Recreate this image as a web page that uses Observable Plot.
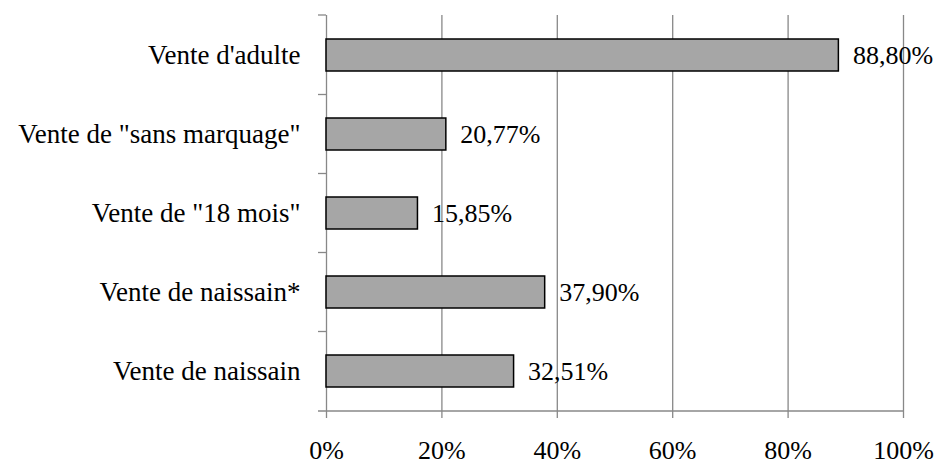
<!DOCTYPE html>
<html>
<head>
<meta charset="utf-8">
<script src="https://cdn.jsdelivr.net/npm/d3@7"></script>
<script src="https://cdn.jsdelivr.net/npm/@observablehq/plot@0.6"></script>
</head>
<body style="margin:0;padding:0;background:#fff">
<div id="chart"></div>
<script>
const categories = [
  "Vente d'adulte",
  "Vente de \"sans marquage\"",
  "Vente de \"18 mois\"",
  "Vente de naissain*",
  "Vente de naissain"
];
const values = [88.80, 20.77, 15.85, 37.90, 32.51];
const xTicks = [0, 20, 40, 60, 80, 100];

const data = categories.map((c, i) => ({cat: c, value: values[i]}));
const fmt = v => v.toFixed(2).replace(".", ",") + "%";

const FONT = "Times New Roman";
const gray = "#888888";
const tickLen = 8;

// category boundary ticks + x axis line (Excel-like)
function categoryTicks(index, scales, values_, dims) {
  const y = scales.y;
  const bw = y.bandwidth ? y.bandwidth() : 0;
  const top = dims.marginTop;
  const bottom = dims.height - dims.marginBottom;
  const left = dims.marginLeft;
  const right = dims.width - dims.marginRight;
  const centers = categories.map(c => y(c) + bw / 2);
  const bounds = [top];
  for (let i = 0; i < centers.length - 1; i++) bounds.push((centers[i] + centers[i + 1]) / 2);
  bounds.push(bottom);
  const g = d3.create("svg:g").attr("stroke", gray).attr("stroke-width", 1.3);
  bounds.forEach((b, i) => {
    g.append("line")
      .attr("x1", left - tickLen).attr("x2", i === bounds.length - 1 ? right : left)
      .attr("y1", b).attr("y2", b);
  });
  return g.node();
}

const chart = Plot.plot({
  width: 934,
  height: 464,
  marginLeft: 326,
  marginRight: 31,
  marginTop: 15,
  marginBottom: 53,
  x: {domain: [0, 100], label: null},
  y: {domain: categories, label: null, paddingInner: 0.6, paddingOuter: 0.3},
  marks: [
    Plot.gridX(xTicks, {stroke: gray, strokeOpacity: 1, strokeWidth: 1.3}),
    Plot.axisX({ticks: xTicks, tickFormat: d => d + "%", tickSize: 7, tickPadding: 22, stroke: gray, strokeOpacity: 1, strokeWidth: 1.3, fill: "#000", fontSize: 26, fontFamily: FONT, label: null}),
    Plot.axisY({tickSize: 0, tickPadding: 26, fill: "#000", fontSize: 27, fontFamily: FONT, label: null}),
    categoryTicks,
    Plot.barX(data, {x: "value", y: "cat", fill: "#a6a6a6", stroke: "#000", strokeWidth: 1.5}),
    Plot.text(data, {x: "value", y: "cat", text: d => fmt(d.value), textAnchor: "start", dx: 14, fill: "#000", fontSize: 26, fontFamily: FONT})
  ]
});
d3.select(chart).attr("font-family", FONT);
document.getElementById("chart").appendChild(chart);
</script>
</body>
</html>
